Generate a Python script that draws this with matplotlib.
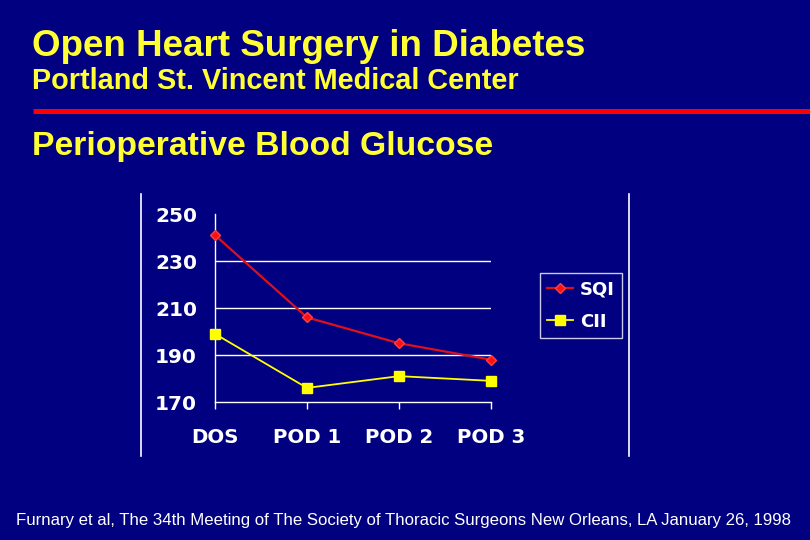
import matplotlib
matplotlib.use("Agg")
import matplotlib.pyplot as plt
from matplotlib.lines import Line2D

categories = ["DOS", "POD 1", "POD 2", "POD 3"]
sqi = [241, 206, 195, 188]
cii = [199, 176, 181, 179]
yticks = [170, 190, 210, 230, 250]

BG = "#000080"
W, H = 810, 540

fig = plt.figure(figsize=(8.1, 5.4), dpi=100, facecolor=BG)

def fx(px):
    return px / W

def fy(py):
    return 1 - py / H

# Titles
fig.text(fx(32), fy(47), "Open Heart Surgery in Diabetes", color="#ffff33",
         fontsize=26.5, fontweight="bold", family="Liberation Sans", va="center", ha="left")
fig.text(fx(32), fy(81), "Portland St. Vincent Medical Center", color="#ffff33",
         fontsize=20.8, fontweight="bold", family="Liberation Sans", va="center", ha="left")
fig.text(fx(32), fy(147), "Perioperative Blood Glucose", color="#ffff33",
         fontsize=24.3, fontweight="bold", family="Liberation Sans", va="center", ha="left")
fig.text(fx(403), fy(521),
         "Furnary et al, The 34th Meeting of The Society of Thoracic Surgeons New Orleans, LA January 26, 1998",
         color="white", fontsize=12.1, family="Liberation Sans",
         va="center", ha="center")

# Red separator
fig.add_artist(Line2D([fx(33), 1.0], [fy(110.5), fy(110.5)], color="#ff0000", lw=3.6,
                      transform=fig.transFigure, solid_capstyle="butt"))
# Frame vertical lines
for xp in (140.5, 629):
    fig.add_artist(Line2D([fx(xp), fx(xp)], [fy(194), fy(456)], color="white", lw=1.2,
                          transform=fig.transFigure))

ax = fig.add_axes([fx(215), fy(402), fx(491) - fx(215), fy(214) - fy(402)])
ax.set_facecolor(BG)
x = list(range(len(categories)))
ax.plot(x, sqi, color="#e0101a", lw=1.6, marker="D", markersize=5,
        markerfacecolor="#ff1010", markeredgecolor="#ff4040", clip_on=False, label="SQI", zorder=4)
ax.plot(x, cii, color="#ffff00", lw=1.3, marker="s", markersize=7,
        markerfacecolor="#ffff00", markeredgecolor="#ffff00", clip_on=False, label="CII", zorder=3)

ax.set_xlim(0, 3)
ax.set_ylim(170, 250)
ax.set_yticks(yticks)
ax.set_xticks(x)
ax.set_xticklabels(categories)
for sp in ("top", "right"):
    ax.spines[sp].set_visible(False)
for sp in ("left", "bottom"):
    ax.spines[sp].set_color("white")
    ax.spines[sp].set_linewidth(1.0)
for yv in (190, 210, 230):
    ax.axhline(yv, color="white", lw=1.0, zorder=1)
ax.tick_params(axis="y", length=0, pad=13, colors="white", labelsize=14.5)
ax.tick_params(axis="x", length=5, width=1, direction="out", pad=13.5, colors="white", labelsize=14.2)
for lab in ax.get_xticklabels() + ax.get_yticklabels():
    lab.set_fontweight("bold")
    lab.set_family("DejaVu Sans")

leg = ax.legend(loc="upper left", bbox_to_anchor=(fx(540), fy(273)),
                bbox_transform=fig.transFigure, frameon=True, fancybox=False,
                facecolor=BG, edgecolor="white", handlelength=1.45, handletextpad=0.35,
                borderpad=0.4, labelspacing=0.8, borderaxespad=0,
                prop={"family": "DejaVu Sans", "weight": "bold", "size": 13})
for t in leg.get_texts():
    t.set_color("white")
leg.get_frame().set_linewidth(1.0)

fig.savefig("out.png", dpi=100, facecolor=BG)
